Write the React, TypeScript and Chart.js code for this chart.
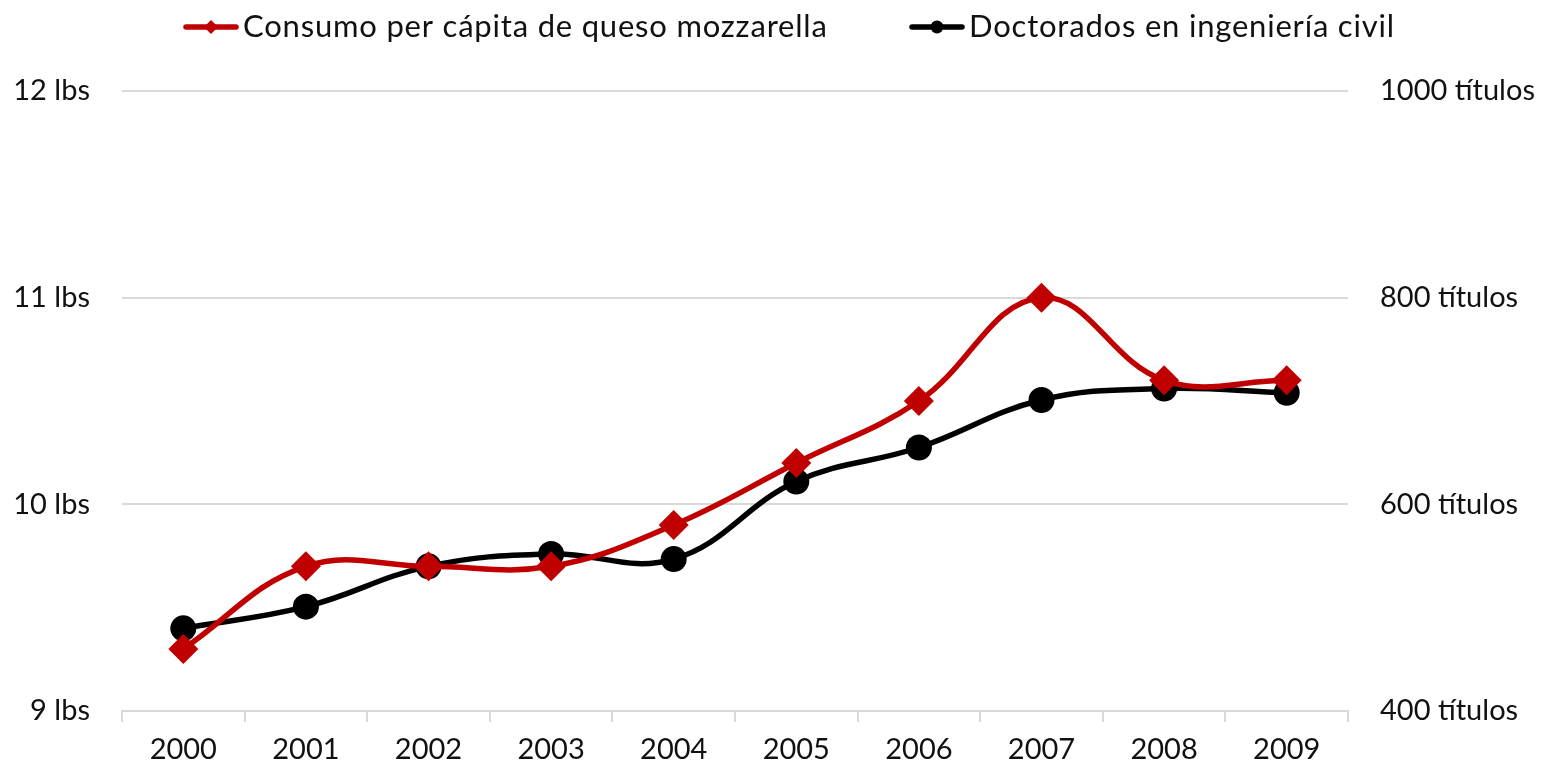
import React, { useEffect, useRef } from "react";
import { Chart, registerables } from "chart.js";

Chart.register(...registerables);

const years = ["2000", "2001", "2002", "2003", "2004", "2005", "2006", "2007", "2008", "2009"];
const mozzarella = [9.3, 9.7, 9.7, 9.7, 9.9, 10.2, 10.5, 11.0, 10.6, 10.6];
const doctorates = [480, 501, 540, 552, 547, 622, 655, 701, 712, 708];
const seriesNames = ["Consumo per cápita de queso mozzarella", "Doctorados en ingeniería civil"];
const leftTicks = [9, 10, 11, 12];
const rightTicks = [400, 600, 800, 1000];

const FONT = "Lato, 'Open Sans', sans-serif";
const RED = "#C00000";
const BLACK = "#000000";
const TEXT = "#111111";
const GRID = "#D9D9D9";

const legendPlugin = {
  id: "customLegend",
  afterDraw(chart: any) {
    const ctx = chart.ctx;
    ctx.save();
    ctx.font = `31px ${FONT}`;
    try {
      (ctx as any).letterSpacing = "0.8px";
    } catch (e) {}
    ctx.textBaseline = "middle";
    const lineLen = 56;
    const gapText = 4;
    const y = 27;
    const starts = [183, 909];
    const styles = [
      { color: RED, shape: "diamond" },
      { color: BLACK, shape: "circle" },
    ];
    seriesNames.forEach((name, i) => {
      const s = styles[i];
      const x = starts[i];
      ctx.strokeStyle = s.color;
      ctx.fillStyle = s.color;
      ctx.lineWidth = 5.5;
      ctx.lineCap = "round";
      ctx.beginPath();
      ctx.moveTo(x + 3, y);
      ctx.lineTo(x + lineLen - 3, y);
      ctx.stroke();
      const cx = x + lineLen / 2;
      ctx.beginPath();
      if (s.shape === "diamond") {
        const r = 7;
        ctx.moveTo(cx - r, y);
        ctx.lineTo(cx, y - r);
        ctx.lineTo(cx + r, y);
        ctx.lineTo(cx, y + r);
        ctx.closePath();
      } else {
        ctx.arc(cx, y, 6.5, 0, Math.PI * 2);
      }
      ctx.fill();
      ctx.fillStyle = TEXT;
      ctx.textAlign = "left";
      ctx.fillText(name, x + lineLen + gapText, y);
    });
    ctx.restore();
  },
};

export default function App() {
  const ref = useRef<HTMLCanvasElement>(null);
  useEffect(() => {
    document.body.style.margin = "0";
    const chart = new Chart(ref.current!, {
      type: "line",
      data: {
        labels: years,
        datasets: [
          {
            label: seriesNames[0],
            data: mozzarella,
            yAxisID: "y",
            borderColor: RED,
            backgroundColor: RED,
            borderWidth: 5.5,
            pointStyle: "rectRot",
            pointRadius: 15,
            pointBorderWidth: 0,
            tension: 0.4,
          },
          {
            label: seriesNames[1],
            data: doctorates,
            yAxisID: "y1",
            borderColor: BLACK,
            backgroundColor: BLACK,
            borderWidth: 5.5,
            pointStyle: "circle",
            pointRadius: 13,
            pointBorderWidth: 0,
            tension: 0.4,
          },
        ],
      },
      options: {
        responsive: false,
        animation: false,
        layout: { padding: { top: 91, left: 0, right: 0, bottom: 0 } },
        plugins: { legend: { display: false }, tooltip: { enabled: false } },
        scales: {
          x: {
            offset: true,
            grid: {
              offset: true,
              drawOnChartArea: false,
              drawTicks: true,
              tickLength: 11,
              color: GRID,
              lineWidth: 2,
            },
            border: { display: true, color: GRID, width: 2 },
            ticks: { font: { family: FONT, size: 29 }, color: TEXT, padding: 10 },
            afterFit(scale: any) {
              scale.height = 62;
            },
          },
          y: {
            position: "left",
            min: 9,
            max: 12,
            afterBuildTicks(scale: any) {
              scale.ticks = leftTicks.map((v) => ({ value: v }));
            },
            grid: { color: GRID, lineWidth: 2, drawTicks: false },
            border: { display: false },
            ticks: {
              font: { family: FONT, size: 29 },
              color: TEXT,
              padding: 32,
              callback: (v: any) => `${v} lbs`,
            },
            afterFit(scale: any) {
              scale.width = 122;
            },
          },
          y1: {
            position: "right",
            min: 400,
            max: 1000,
            afterBuildTicks(scale: any) {
              scale.ticks = rightTicks.map((v) => ({ value: v }));
            },
            grid: { drawOnChartArea: false, drawTicks: false },
            border: { display: false },
            ticks: {
              font: { family: FONT, size: 29 },
              color: TEXT,
              padding: 32,
              callback: (v: any) => `${v} títulos`,
            },
            afterFit(scale: any) {
              scale.width = 206;
            },
          },
        },
      },
      plugins: [legendPlugin],
    });
    return () => chart.destroy();
  }, []);
  return (
    <div style={{ width: 1554, height: 773 }}>
      <canvas ref={ref} width={1554} height={773} />
    </div>
  );
}
